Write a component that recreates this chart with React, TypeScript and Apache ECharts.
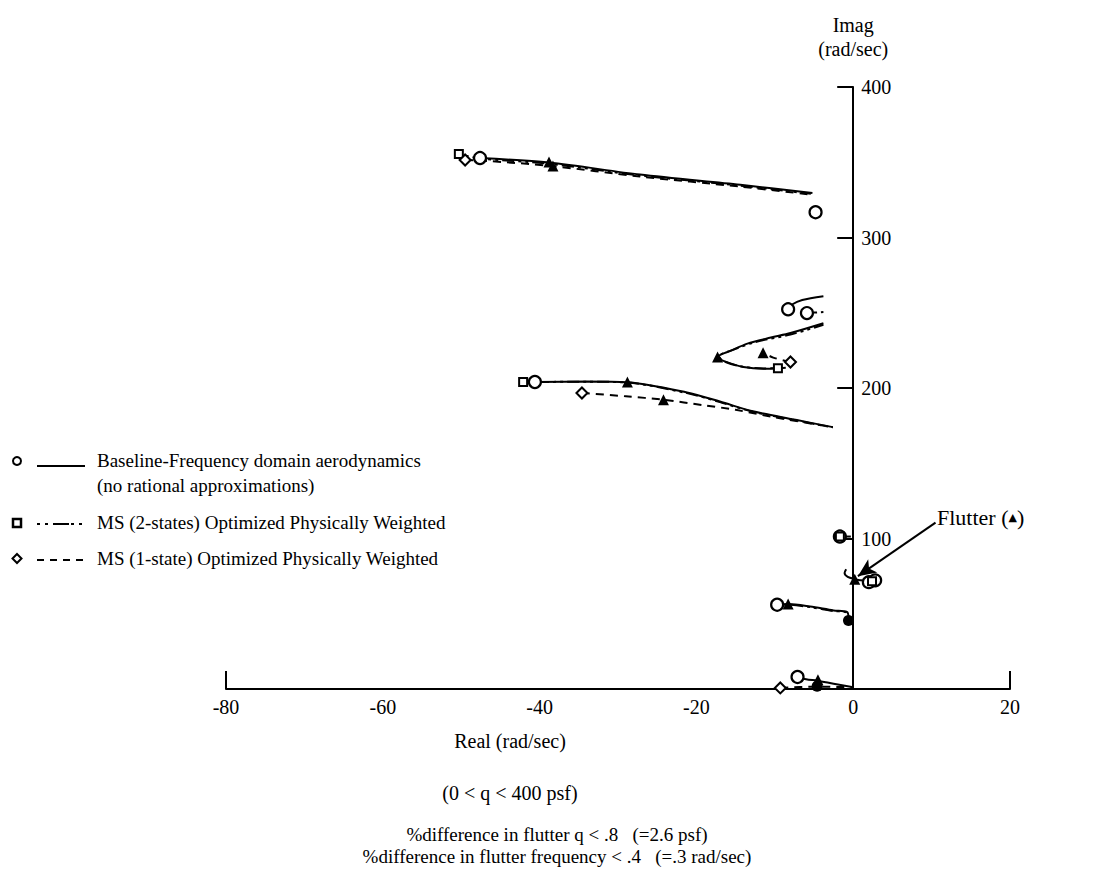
import React, { useEffect, useRef } from "react";
import * as echarts from "echarts";

// ---- Data (Real, Imag) in rad/sec ----
// Baseline – frequency domain aerodynamics (solid)
const base350 = [[-47.6, 352.8], [-38.8, 349.8], [-27.2, 341.8], [-14.4, 335.0], [-5.2, 329.6]];
const base255 = [[-8.3, 252.5], [-7.8, 255.5], [-6.5, 258.5], [-3.8, 261.0]];
const base225 = [[-8.6, 213.5], [-11.0, 212.8], [-14.0, 214.0], [-16.3, 217.5], [-17.3, 220.6], [-15.5, 225.0], [-13.5, 229.5], [-10.5, 233.5], [-8.0, 236.5], [-3.8, 243.0]];
const base200 = [[-40.6, 204.0], [-34.0, 204.3], [-28.8, 203.8], [-21.2, 197.0], [-17.0, 191.0], [-12.8, 184.5], [-7.5, 179.0], [-2.6, 174.0]];
const base100 = [[-1.7, 101.3], [-0.3, 101.3]];
const baseFlutter = [[2.2, 71.2], [1.0, 72.2], [0.2, 73.0], [-0.7, 74.5], [-1.1, 77.0], [-0.9, 79.5]];
const base55 = [[-9.7, 56.0], [-8.3, 56.4], [-5.5, 54.8], [-2.5, 52.2], [-0.8, 51.2], [-0.6, 47.0], [-0.6, 44.0]];
const base5 = [[-7.1, 8.0], [-6.0, 6.5], [-4.6, 5.5], [-2.5, 3.5], [0.0, 1.2]];

// MS (2-states) optimized physically weighted (dash-dot)
const two350 = [[-50.3, 355.5], [-47.6, 352.5], [-38.8, 349.0], [-27.2, 341.2], [-14.4, 334.5], [-5.4, 329.0]];
const two255 = [[-5.9, 249.8], [-3.8, 250.5]];
const two225 = [[-9.3, 213.3], [-11.5, 213.0], [-14.5, 214.5], [-16.6, 218.0], [-17.1, 221.0], [-15.0, 226.0], [-12.5, 230.5], [-8.0, 235.5], [-3.8, 242.0]];
const two200 = [[-42.1, 204.0], [-40.6, 204.0], [-34.0, 204.2], [-28.8, 203.6], [-21.2, 196.6], [-17.0, 190.6], [-12.8, 184.2], [-7.5, 178.7], [-2.6, 173.8]];
const two55 = [[-9.7, 55.6], [-8.3, 56.0], [-5.5, 54.4], [-2.5, 51.8], [-0.8, 50.8], [-0.6, 46.0]];

// MS (1-state) optimized physically weighted (dashed)
const one350 = [[-49.5, 351.5], [-47.0, 351.0], [-38.5, 347.5], [-27.2, 340.5], [-14.4, 333.8], [-5.4, 328.5]];
const one225 = [[-8.0, 217.3], [-10.2, 220.2], [-11.5, 223.5]];
const one200 = [[-34.6, 196.7], [-29.0, 194.5], [-24.2, 192.2], [-19.0, 188.5], [-15.0, 185.5], [-10.0, 180.5], [-2.6, 174.0]];
const one0 = [[-9.3, 0.7], [-5.0, 1.5], [0.0, 1.2]];

// Markers
const circlePts = [[-47.6, 352.8], [-4.8, 316.8], [-8.3, 252.3], [-5.9, 249.8], [-40.6, 204.0], [-1.7, 101.3], [2.0, 71.0], [2.8, 72.2], [-9.7, 56.0], [-7.1, 8.0]];
const squarePts = [[-50.3, 355.5], [-9.6, 213.2], [-42.1, 204.0], [-1.7, 101.3], [2.4, 71.6]];
const diamondPts = [[-49.5, 351.5], [-8.0, 217.3], [-34.6, 196.7], [-9.3, 0.7]];
const trianglePts = [[-38.8, 350.2], [-38.3, 347.5], [-17.3, 220.6], [-11.5, 223.5], [-28.8, 204.0], [-24.2, 192.2], [0.2, 73.0], [-8.3, 56.5], [-4.5, 6.2]];
const filledPts = [[-0.6, 45.5], [-4.6, 1.8]];

const flutterArrow = [[10.5, 110.5], [0.6, 75.0]];

const xTicks = [-80, 20];
const yLabelValues = [100, 200, 300, 400];

const SERIF = "'Liberation Serif', 'Times New Roman', serif";

export default function App() {
  const ref = useRef<HTMLDivElement>(null);
  useEffect(() => {
    if (!ref.current) return;
    const chart = echarts.init(ref.current, undefined, { renderer: "svg" });
    const mk = (data: number[][], type: any) => ({
      type: "line",
      data,
      smooth: 0.3,
      showSymbol: false,
      symbol: "none",
      clip: false,
      lineStyle: { color: "#000", width: 2, type },
      z: 2,
    });
    const dashDot = [3, 4, 3, 4, 12, 4];
    const dashed = [8, 6];
    const sc = (data: number[][], symbol: string, size: number, filled: boolean, bw = 2) => ({
      type: "scatter",
      data,
      symbol,
      symbolSize: size,
      clip: false,
      itemStyle: { color: filled ? "#000" : "#fff", borderColor: "#000", borderWidth: filled ? 0 : bw, opacity: 1 },
      z: 5,
    });

    const series: any[] = [
      mk(base350, "solid"), mk(base255, "solid"), mk(base225, "solid"), mk(base200, "solid"),
      mk(base100, "solid"), mk(baseFlutter, "solid"), mk(base55, "solid"), mk(base5, "solid"),
      mk(two350, dashDot), mk(two255, dashDot), mk(two225, dashDot), mk(two200, dashDot), mk(two55, dashDot),
      mk(one350, dashed), mk(one225, dashed), mk(one200, dashed), mk(one0, dashed),
      sc(circlePts, "circle", 12, false, 2.2),
      sc(squarePts, "rect", 8, false, 2),
      sc(diamondPts, "diamond", 11, false, 2),
      sc(trianglePts, "triangle", 11, true),
      sc(filledPts, "circle", 11, true),
      // y tick labels placed next to the axis line at Real = 0
      {
        type: "scatter",
        data: yLabelValues.map((v) => [0, v]),
        symbolSize: 0,
        silent: true,
        clip: false,
        itemStyle: { color: "#000" },
        label: {
          show: true,
          position: "right",
          distance: 8,
          color: "#000",
          opacity: 1,
          textBorderWidth: 0,
          fontSize: 20,
          fontWeight: "normal",
          fontFamily: SERIF,
          formatter: (p: any) => String(p.value[1]),
        },
      },
      {
        type: "line",
        data: [],
        markLine: {
          silent: true,
          symbol: ["none", "arrow"],
          symbolSize: [12, 18],
          lineStyle: { color: "#000", width: 2, type: "solid" },
          label: { show: false },
          data: [[{ coord: flutterArrow[0] }, { coord: flutterArrow[1] }]],
        },
      },
    ];

    const legendText = (x: number, y: number, text: string) => ({
      type: "text", x, y,
      style: { text, fill: "#000", font: `19px ${SERIF}`, verticalAlign: "middle" },
    });
    const centerText = (x: number, y: number, text: string, size = 20) => ({
      type: "text", x, y,
      style: { text, fill: "#000", font: `${size}px ${SERIF}`, align: "center", verticalAlign: "middle" },
    });

    chart.setOption({
      animation: false,
      backgroundColor: "#fff",
      grid: { left: 226, right: 87, top: 87, bottom: 190 },
      xAxis: {
        type: "value",
        min: -80,
        max: 20,
        interval: 20,
        axisLine: { onZero: false, lineStyle: { color: "#000", width: 2 } },
        axisTick: { show: true, inside: true, length: 18, customValues: xTicks, lineStyle: { color: "#000", width: 2 } },
        axisLabel: { color: "#000", fontSize: 20, fontFamily: SERIF, margin: 8 },
        splitLine: { show: false },
      },
      yAxis: {
        type: "value",
        position: "right",
        min: 0,
        max: 400,
        interval: 100,
        name: "Imag\n(rad/sec)",
        nameLocation: "end",
        nameGap: 26,
        nameTextStyle: { color: "#000", fontSize: 20, fontFamily: SERIF, lineHeight: 24, align: "center" },
        axisLine: { onZero: true, lineStyle: { color: "#000", width: 2 } },
        axisTick: { show: true, inside: true, length: 16, customValues: yLabelValues, lineStyle: { color: "#000", width: 2 } },
        axisLabel: { show: false },
        splitLine: { show: false },
      },
      graphic: [
        // legend
        { type: "circle", shape: { cx: 17, cy: 461, r: 4 }, style: { fill: "#fff", stroke: "#000", lineWidth: 2 } },
        { type: "line", shape: { x1: 37, y1: 466, x2: 85, y2: 466 }, style: { stroke: "#000", lineWidth: 2 } },
        legendText(97, 460, "Baseline-Frequency domain aerodynamics"),
        legendText(97, 485, "(no rational approximations)"),
        { type: "rect", shape: { x: 13, y: 519, width: 8, height: 8 }, style: { fill: "#fff", stroke: "#000", lineWidth: 2.5 } },
        { type: "line", shape: { x1: 37, y1: 524, x2: 85, y2: 524 }, style: { stroke: "#000", lineWidth: 2, lineDash: [3, 5, 3, 5, 16, 2] } },
        legendText(97, 522, "MS (2-states) Optimized Physically Weighted"),
        { type: "polygon", shape: { points: [[17, 554], [21.5, 558.5], [17, 563], [12.5, 558.5]] }, style: { fill: "#fff", stroke: "#000", lineWidth: 2 } },
        { type: "line", shape: { x1: 37, y1: 560, x2: 85, y2: 560 }, style: { stroke: "#000", lineWidth: 2, lineDash: [7, 6] } },
        legendText(97, 558, "MS (1-state) Optimized Physically Weighted"),
        // flutter label
        {
          type: "text", x: 937, y: 517,
          style: {
            text: "{a|Flutter (}{b|▲}{a|)}",
            rich: { a: { font: `22px ${SERIF}`, fill: "#000" }, b: { font: `11px 'DejaVu Sans'`, fill: "#000" } },
            verticalAlign: "middle",
          },
        },
        // bottom texts
        centerText(510, 741, "Real (rad/sec)"),
        centerText(510, 793, "(0 < q < 400 psf)"),
        centerText(557, 834, "%difference in flutter q < .8   (=2.6 psf)", 19),
        centerText(557, 856, "%difference in flutter frequency < .4   (=.3 rad/sec)", 19),
      ],
      series,
    });
    return () => chart.dispose();
  }, []);
  return <div ref={ref} style={{ position: "fixed", left: 0, top: 0, width: 1097, height: 879 }} />;
}
